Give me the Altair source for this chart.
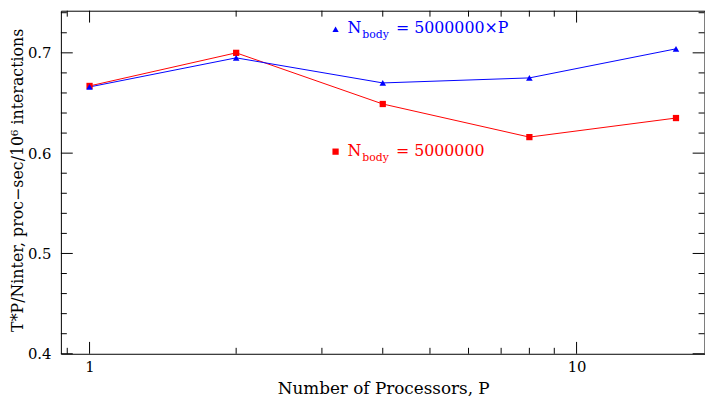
import altair as alt
import pandas as pd

# ---- data ----
procs = [1, 2, 4, 8, 16]
rate_scaled = [0.666, 0.695, 0.670, 0.675, 0.704]   # N_body = 5000000 x P (blue triangles)
rate_fixed = [0.667, 0.700, 0.649, 0.616, 0.635]    # N_body = 5000000 (red squares)

series_names = ["scaled", "fixed"]
series_colors = ["#0000ff", "#ff0000"]
series_shapes = ["triangle-up", "square"]

legend_x = [3.2, 3.2]
legend_y = [0.7235, 0.6015]
legend_text = ["= 5000000×P", "= 5000000"]

x_major = [1, 10]
x_minor = [0.9, 2, 3, 4, 5, 6, 7, 8, 9]
y_major = [0.4, 0.5, 0.6, 0.7]
y_minor = [0.42, 0.44, 0.46, 0.48, 0.52, 0.54, 0.56, 0.58,
           0.62, 0.64, 0.66, 0.68, 0.72, 0.74]

X_DOMAIN = [0.8733, 18.31]
Y_DOMAIN = [0.4, 0.742]
W, H = 651, 347
FONT = "DejaVu Serif"

df = pd.DataFrame({
    "P": procs * 2,
    "rate": rate_fixed + rate_scaled,
    "series": ["fixed"] * len(procs) + ["scaled"] * len(procs),
    "order": [0] * len(procs) + [1] * len(procs),
})
leg = pd.DataFrame({"lx": legend_x, "ly": legend_y, "series": series_names,
                    "txt": legend_text, "N": ["N", "N"], "sub": ["body", "body"]})

xs = alt.Scale(type="log", domain=X_DOMAIN, nice=False, zero=False)
ys = alt.Scale(domain=Y_DOMAIN, nice=False, zero=False)
color = alt.Color("series:N", scale=alt.Scale(domain=series_names, range=series_colors), legend=None)
shape = alt.Shape("series:N", scale=alt.Scale(domain=series_names, range=series_shapes), legend=None)

x_axis = alt.Axis(values=x_major, labelExpr="datum.value", ticks=False, domain=False, grid=False,
                  labelFont=FONT, labelFontSize=15, labelColor="black", labelPadding=6,
                  title="Number of Processors, P", titleFont=FONT, titleFontSize=17,
                  titleFontWeight="normal", titleColor="black", titleX=326, titleY=35,
                  titleBaseline="middle", titleAlign="center")
y_axis = alt.Axis(values=y_major, format=".1f", ticks=False, domain=False, grid=False,
                  labelFont=FONT, labelFontSize=15, labelColor="black", labelPadding=10,
                  title="T*P/Ninter, proc−sec/10⁶ interactions", titleFont=FONT,
                  titleFontSize=16, titleFontWeight="normal", titleColor="black",
                  titleAngle=-90, titleX=-44, titleY=171, titleBaseline="middle",
                  titleAlign="center")

base = alt.Chart(df)
lines = base.mark_line(strokeWidth=1, clip=True).encode(
    x=alt.X("P:Q", scale=xs, axis=x_axis),
    y=alt.Y("rate:Q", scale=ys, axis=y_axis),
    color=color, detail="series:N", order="order:Q",
)
pts_fixed = alt.Chart(df[df.series == "fixed"]).mark_point(filled=True, size=40, opacity=1).encode(
    x=alt.X("P:Q", scale=xs), y=alt.Y("rate:Q", scale=ys), color=color, shape=shape)
pts_scaled = alt.Chart(df[df.series == "scaled"]).mark_point(filled=True, size=44, opacity=1).encode(
    x=alt.X("P:Q", scale=xs), y=alt.Y("rate:Q", scale=ys), color=color, shape=shape)

# inward ticks
xmaj = pd.DataFrame({"t": x_major})
xmin = pd.DataFrame({"t": x_minor})
ymaj = pd.DataFrame({"t": y_major})
ymin = pd.DataFrame({"t": y_minor})
MAJ, MIN = 12, 6
tick_layers = []
for d, L in [(xmaj, MAJ), (xmin, MIN)]:
    tick_layers.append(alt.Chart(d).mark_rule(color="black", strokeWidth=1).encode(
        x=alt.X("t:Q", scale=xs), y=alt.value(H), y2=alt.value(H - L)))
    tick_layers.append(alt.Chart(d).mark_rule(color="black", strokeWidth=1).encode(
        x=alt.X("t:Q", scale=xs), y=alt.value(0), y2=alt.value(L)))
for d, L in [(ymaj, MAJ), (ymin, MIN)]:
    tick_layers.append(alt.Chart(d).mark_rule(color="black", strokeWidth=1).encode(
        y=alt.Y("t:Q", scale=ys), x=alt.value(0), x2=alt.value(L)))
    tick_layers.append(alt.Chart(d).mark_rule(color="black", strokeWidth=1).encode(
        y=alt.Y("t:Q", scale=ys), x=alt.value(W), x2=alt.value(W - L)))

# legend annotations
lb = alt.Chart(leg)
leg_sym = lb.mark_point(filled=True, size=40, opacity=1).encode(
    x=alt.X("lx:Q", scale=xs), y=alt.Y("ly:Q", scale=ys), color=color, shape=shape)
leg_N = lb.mark_text(font=FONT, fontSize=16, align="left", baseline="middle", dx=12, dy=-1).encode(
    x=alt.X("lx:Q", scale=xs), y=alt.Y("ly:Q", scale=ys), text="N:N", color=color)
leg_sub = lb.mark_text(font=FONT, fontSize=11, align="left", baseline="middle", dx=27, dy=6).encode(
    x=alt.X("lx:Q", scale=xs), y=alt.Y("ly:Q", scale=ys), text="sub:N", color=color)
leg_txt = lb.mark_text(font=FONT, fontSize=16, align="left", baseline="middle", dx=61, dy=-1).encode(
    x=alt.X("lx:Q", scale=xs), y=alt.Y("ly:Q", scale=ys), text="txt:N", color=color)

chart = alt.layer(
    lines, pts_fixed, pts_scaled, *tick_layers, leg_sym, leg_N, leg_sub, leg_txt
).properties(
    width=W, height=H,
    autosize=alt.AutoSizeParams(type="none"),
    padding={"left": 53.5, "top": 0.5, "right": 0.5, "bottom": 43},
).configure(
    background="white",
    view=alt.ViewConfig(stroke="black", strokeWidth=1),
)

chart.save("out.html", embed_options={"renderer": "svg", "actions": False})
